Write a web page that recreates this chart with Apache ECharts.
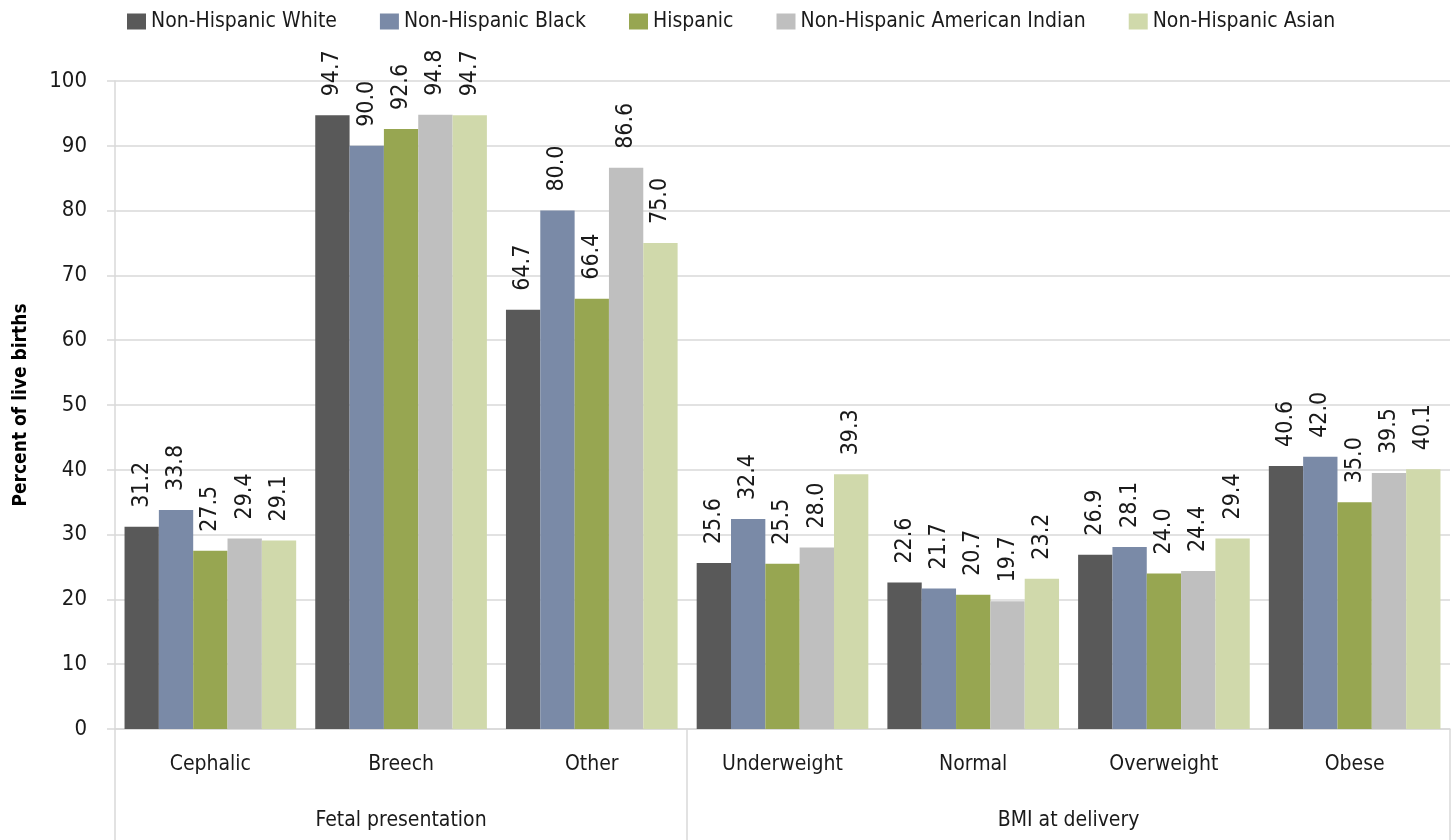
<!DOCTYPE html>
<html><head><meta charset="utf-8">
<script src="https://cdn.jsdelivr.net/npm/echarts@6/dist/echarts.min.js"></script>
<style>html,body{margin:0;padding:0;background:#fff}#c{width:1456px;height:840px}</style>
</head><body><div id="c"></div>
<script>
const categories = ['Cephalic','Breech','Other','Underweight','Normal','Overweight','Obese'];
const groups = ['Fetal presentation','BMI at delivery'];
const seriesNames = ['Non-Hispanic White','Non-Hispanic Black','Hispanic','Non-Hispanic American Indian','Non-Hispanic Asian'];
const white = [31.2, 94.7, 64.7, 25.6, 22.6, 26.9, 40.6];
const black = [33.8, 90.0, 80.0, 32.4, 21.7, 28.1, 42.0];
const hispanic = [27.5, 92.6, 66.4, 25.5, 20.7, 24.0, 35.0];
const amIndian = [29.4, 94.8, 86.6, 28.0, 19.7, 24.4, 39.5];
const asian = [29.1, 94.7, 75.0, 39.3, 23.2, 29.4, 40.1];
const colors = ['#595959','#7a8aa7','#97a651','#bfbfbf','#d0d9ab'];
const FONT = '"DejaVu Sans Condensed","Liberation Sans Narrow","Open Sans",sans-serif';
const allData = [white, black, hispanic, amIndian, asian];

const chart = echarts.init(document.getElementById('c'));
chart.setOption({
  animation:false,
  textStyle:{fontFamily:FONT},
  legend:{top:6,left:122,itemWidth:19,itemHeight:16,itemGap:43,
    textStyle:{fontFamily:FONT,fontSize:21,color:'#1a1a1a'},
    data:seriesNames.map(n=>({name:n,icon:'rect'}))},
  grid:{left:115,right:6,top:81,bottom:111,containLabel:false},
  xAxis:[{
    type:'category',data:categories,
    axisLine:{show:true,lineStyle:{color:'#d9d9d9',width:1.5}},
    axisTick:{show:false},
    axisLabel:{fontFamily:FONT,fontSize:21,color:'#1a1a1a',margin:25}
  },{
    type:'value',min:0,max:7,position:'bottom',
    axisLine:{show:false},
    splitLine:{show:false},
    axisTick:{show:true,customValues:[0,3,7],length:111,inside:false,lineStyle:{color:'#d9d9d9',width:1.5}},
    axisLabel:{customValues:[1.5,5],fontFamily:FONT,fontSize:21,color:'#1a1a1a',margin:81,
      formatter:v=> v===1.5?groups[0]:(v===5?groups[1]:'')}
  }],
  yAxis:{
    type:'value',min:0,max:100,interval:10,
    name:'Percent of live births',nameLocation:'middle',nameGap:84,
    nameTextStyle:{fontFamily:FONT,fontSize:19,fontWeight:'bold',color:'#000'},
    axisLine:{show:true,lineStyle:{color:'#d9d9d9',width:1.5}},
    axisTick:{show:true,length:8,lineStyle:{color:'#d9d9d9',width:1.5}},
    axisLabel:{fontFamily:FONT,fontSize:22,color:'#1a1a1a',margin:28},
    splitLine:{show:true,lineStyle:{color:'#d9d9d9',width:1.5}}
  },
  series: seriesNames.map((n,i)=>({
    name:n,type:'bar',data:allData[i],
    barGap:'0%',barCategoryGap:'10%',
    itemStyle:{color:colors[i]},
    label:{show:true,position:'top',rotate:90,align:'left',verticalAlign:'middle',distance:19,
      fontFamily:FONT,fontSize:23,color:'#1a1a1a',formatter:p=>p.value.toFixed(1)}
  }))
});
</script></body></html>
